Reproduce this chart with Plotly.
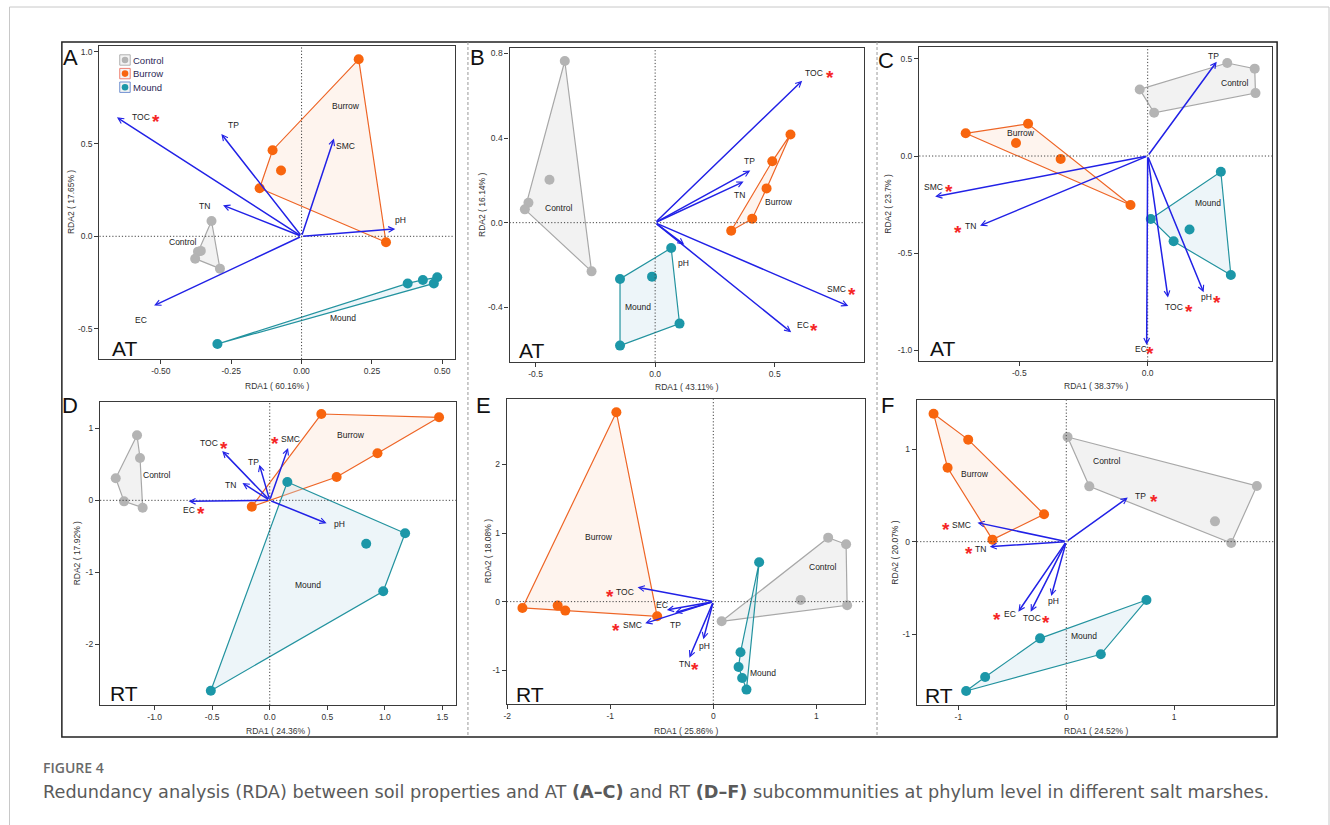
import plotly.graph_objects as go

W, H = 1330, 825
FONT = "Liberation Sans, Arial, sans-serif"

# ---------------- DATA ----------------
GROUPS = ["Control", "Burrow", "Mound"]

# Panel A (AT)
A_CONTROL = [(-0.320, 0.083), (-0.358, -0.079), (-0.368, -0.083), (-0.378, -0.121), (-0.290, -0.175)]
A_BURROW = [(0.203, 0.958), (-0.103, 0.466), (-0.073, 0.356), (-0.149, 0.260), (0.300, -0.032)]
A_MOUND = [(-0.299, -0.583), (0.377, -0.255), (0.431, -0.236), (0.482, -0.222), (0.470, -0.255)]
A_ARROW_NAMES = ["TOC", "TP", "SMC", "TN", "pH", "EC"]
A_ARROW_X = [-0.656, -0.285, 0.115, -0.279, 0.333, -0.524]
A_ARROW_Y = [0.644, 0.554, 0.529, 0.168, 0.040, -0.375]
A_ARROW_SIG = [1, 0, 0, 0, 0, 0]
A_XTICKS = [-0.5, -0.25, 0.0, 0.25, 0.5]
A_XTICKTEXT = ["-0.50", "-0.25", "0.00", "0.25", "0.50"]
A_YTICKS = [1.0, 0.5, 0.0, -0.5]
A_YTICKTEXT = ["1.0", "0.5", "0.0", "-0.5"]
A_XTITLE = "RDA1 ( 60.16% )"
A_YTITLE = "RDA2 ( 17.65% )"

# Panel B (AT)
B_CONTROL = [(-0.378, 0.764), (-0.442, 0.203), (-0.530, 0.094), (-0.545, 0.063), (-0.266, -0.230)]
B_BURROW = [(0.566, 0.417), (0.490, 0.290), (0.466, 0.162), (0.406, 0.019), (0.318, -0.038)]
B_MOUND = [(0.067, -0.120), (-0.013, -0.255), (-0.147, -0.266), (0.102, -0.477), (-0.147, -0.581)]
B_ARROW_NAMES = ["TOC", "TP", "TN", "pH", "SMC", "EC"]
B_ARROW_X = [0.615, 0.398, 0.370, 0.122, 0.808, 0.569]
B_ARROW_Y = [0.671, 0.246, 0.194, -0.104, -0.394, -0.518]
B_ARROW_SIG = [1, 0, 0, 0, 1, 1]
B_XTICKS = [-0.5, 0.0, 0.5]
B_XTICKTEXT = ["-0.5", "0.0", "0.5"]
B_YTICKS = [0.8, 0.4, 0.0, -0.4]
B_YTICKTEXT = ["0.8", "0.4", "0.0", "-0.4"]
B_XTITLE = "RDA1 ( 43.11% )"
B_YTITLE = "RDA2 ( 16.14% )"

# Panel C (AT)
C_CONTROL = [(-0.031, 0.343), (0.025, 0.223), (0.310, 0.479), (0.417, 0.450), (0.420, 0.324)]
C_BURROW = [(-0.709, 0.117), (-0.466, 0.166), (-0.513, 0.067), (-0.339, -0.015), (-0.067, -0.252)]
C_MOUND = [(0.285, -0.081), (0.012, -0.324), (0.163, -0.378), (0.101, -0.439), (0.324, -0.613)]
C_ARROW_NAMES = ["TP", "SMC", "TN", "TOC", "pH", "EC"]
C_ARROW_X = [0.269, -0.828, -0.653, 0.079, 0.218, -0.004]
C_ARROW_Y = [0.486, -0.209, -0.359, -0.729, -0.702, -0.973]
C_ARROW_SIG = [0, 1, 1, 1, 1, 1]
C_XTICKS = [-0.5, 0.0]
C_XTICKTEXT = ["-0.5", "0.0"]
C_YTICKS = [0.5, 0.0, -0.5, -1.0]
C_YTICKTEXT = ["0.5", "0.0", "-0.5", "-1.0"]
C_XTITLE = "RDA1 ( 38.37% )"
C_YTITLE = "RDA2 ( 23.7% )"

# Panel D (RT)
D_CONTROL = [(-1.153, 0.903), (-1.127, 0.588), (-1.338, 0.306), (-1.266, -0.014), (-1.104, -0.102)]
D_BURROW = [(0.448, 1.199), (1.471, 1.153), (0.936, 0.653), (0.581, 0.324), (-0.156, -0.088)]
D_MOUND = [(0.153, 0.255), (1.176, -0.458), (0.838, -0.602), (0.986, -1.264), (-0.512, -2.644)]
D_ARROW_NAMES = ["TOC", "SMC", "TP", "TN", "EC", "pH"]
D_ARROW_X = [-0.413, 0.159, -0.090, -0.237, -0.705, 0.494]
D_ARROW_Y = [0.685, 0.727, 0.495, 0.241, -0.014, -0.319]
D_ARROW_SIG = [1, 1, 0, 0, 1, 0]
D_XTICKS = [-1.0, -0.5, 0.0, 0.5, 1.0, 1.5]
D_XTICKTEXT = ["-1.0", "-0.5", "0.0", "0.5", "1.0", "1.5"]
D_YTICKS = [1, 0, -1, -2]
D_YTICKTEXT = ["1", "0", "-1", "-2"]
D_XTITLE = "RDA1 ( 24.36% )"
D_YTITLE = "RDA2 ( 17.92% )"

# Panel E (RT)
E_CONTROL = [(1.115, 0.933), (1.289, 0.836), (0.848, 0.024), (1.299, -0.053), (0.081, -0.287)]
E_BURROW = [(-0.941, 2.761), (-1.853, -0.092), (-1.511, -0.058), (-1.437, -0.131), (-0.545, -0.214)]
E_MOUND = [(0.445, 0.574), (0.264, -0.739), (0.245, -0.953), (0.280, -1.113), (0.322, -1.283)]
E_ARROW_NAMES = ["TOC", "EC", "TP", "SMC", "pH", "TN"]
E_ARROW_X = [-0.735, -0.451, -0.371, -0.661, -0.097, -0.232]
E_ARROW_Y = [0.209, -0.122, -0.160, -0.316, -0.549, -0.817]
E_ARROW_SIG = [1, 0, 0, 1, 0, 1]
E_XTICKS = [-2, -1, 0, 1]
E_XTICKTEXT = ["-2", "-1", "0", "1"]
E_YTICKS = [2, 1, 0, -1]
E_YTICKTEXT = ["2", "1", "0", "-1"]
E_XTITLE = "RDA1 ( 25.86% )"
E_YTITLE = "RDA2 ( 18.08% )"

# Panel F (RT)
F_CONTROL = [(0.012, 1.134), (0.213, 0.599), (1.766, 0.603), (1.378, 0.220), (1.528, -0.014)]
F_BURROW = [(-1.230, 1.386), (-0.909, 1.105), (-1.100, 0.801), (-0.206, 0.296), (-0.684, 0.022)]
F_MOUND = [(0.743, -0.632), (-0.243, -1.047), (0.320, -1.220), (-0.752, -1.466), (-0.928, -1.617)]
F_ARROW_NAMES = ["TP", "SMC", "TN", "EC", "TOC", "pH"]
F_ARROW_X = [0.570, -0.823, -0.709, -0.444, -0.330, -0.139]
F_ARROW_Y = [0.477, 0.206, -0.054, -0.758, -0.758, -0.588]
F_ARROW_SIG = [1, 1, 1, 1, 1, 0]
F_XTICKS = [-1, 0, 1]
F_XTICKTEXT = ["-1", "0", "1"]
F_YTICKS = [1, 0, -1]
F_YTICKTEXT = ["1", "0", "-1"]
F_XTITLE = "RDA1 ( 24.52% )"
F_YTITLE = "RDA2 ( 20.07% )"

CAPTION_HEAD = "FIGURE 4"
CAPTION = ("Redundancy analysis (RDA) between soil properties and AT <b>(A\u2013C)</b> and RT "
           "<b>(D\u2013F)</b> subcommunities at phylum level in different salt marshes.")

# ---------------- LAYOUT / STYLE (positions in pixels) ----------------
PANELS = [
    dict(letter="A", tag="AT", groups=[A_CONTROL, A_BURROW, A_MOUND],
         names=A_ARROW_NAMES, ax=A_ARROW_X, ay=A_ARROW_Y, sig=A_ARROW_SIG,
         xt=(A_XTICKS, A_XTICKTEXT), yt=(A_YTICKS, A_YTICKTEXT), xtitle=A_XTITLE, ytitle=A_YTITLE,
         frame=(96.7, 452.7, 46, 359), xr=(-0.718, 0.544), yr=(-0.664, 1.030),
         lab={"TOC": (24, 0), "TP": (12, 9), "SMC": (12, -7), "TN": (-19, -1), "pH": (5, 9), "EC": (-13, -14)},
         star={"TOC": (39, 1)},
         glab=[(-0.423, -0.032), (0.157, 0.708), (0.147, -0.444)],
         letter_xy=(68, 57), tag_xy=(122, 348), ytitle_x=67.7, xtitle_y=385.7, legend=True),
    dict(letter="B", tag="AT", groups=[B_CONTROL, B_BURROW, B_MOUND],
         names=B_ARROW_NAMES, ax=B_ARROW_X, ay=B_ARROW_Y, sig=B_ARROW_SIG,
         xt=(B_XTICKS, B_XTICKTEXT), yt=(B_YTICKS, B_YTICKTEXT), xtitle=B_XTITLE, ytitle=B_YTITLE,
         frame=(507.7, 863.3, 48.3, 361.7), xr=(-0.609, 0.875), yr=(-0.657, 0.824),
         lab={"TOC": (12, 8), "TP": (-1, 10), "TN": (-4, -13), "pH": (-1, -18), "SMC": (-12, 17), "EC": (12, 7)},
         star={"TOC": (28, 9), "SMC": (4, 17.5), "EC": (23, 7)},
         glab=[(-0.401, 0.068), (0.517, 0.099), (-0.070, -0.398)],
         letter_xy=(476, 57), tag_xy=(530, 350), ytitle_x=480, xtitle_y=386.7, legend=False),
    dict(letter="C", tag="AT", groups=[C_CONTROL, C_BURROW, C_MOUND],
         names=C_ARROW_NAMES, ax=C_ARROW_X, ay=C_ARROW_Y, sig=C_ARROW_SIG,
         xt=(C_XTICKS, C_XTICKTEXT), yt=(C_YTICKS, C_YTICKTEXT), xtitle=C_XTITLE, ytitle=C_YTITLE,
         frame=(918.3, 1272.3, 46.7, 360.7), xr=(-0.890, 0.486), yr=(-1.054, 0.563),
         lab={"TP": (-3, 6), "SMC": (-2, 10), "TN": (-10, 0), "TOC": (6, -9), "pH": (3, -5), "EC": (-6, -4)},
         star={"SMC": (14, 11), "TN": (-22, -1), "TOC": (21, -8), "pH": (13, -5), "EC": (3, -3)},
         glab=[(0.341, 0.378), (-0.492, 0.120), (0.234, -0.244)],
         letter_xy=(885, 60), tag_xy=(942, 348), ytitle_x=887, xtitle_y=385.7, legend=False),
    dict(letter="D", tag="RT", groups=[D_CONTROL, D_BURROW, D_MOUND],
         names=D_ARROW_NAMES, ax=D_ARROW_X, ay=D_ARROW_Y, sig=D_ARROW_SIG,
         xt=(D_XTICKS, D_XTICKTEXT), yt=(D_YTICKS, D_YTICKTEXT), xtitle=D_XTITLE, ytitle=D_YTITLE,
         frame=(97.3, 454, 402, 705), xr=(-1.474, 1.618), yr=(-2.843, 1.366),
         lab={"TOC": (-13, 8), "SMC": (2, 9), "TP": (-6, 3), "TN": (-12, -2), "EC": (0, -9), "pH": (13, -1)},
         star={"TOC": (2, 8), "SMC": (-13, 10), "EC": (12, -7)},
         glab=[(-0.980, 0.347), (0.708, 0.912), (0.332, -1.176)],
         letter_xy=(67, 405), tag_xy=(121, 693), ytitle_x=74, xtitle_y=730.5, legend=False),
    dict(letter="E", tag="RT", groups=[E_CONTROL, E_BURROW, E_MOUND],
         names=E_ARROW_NAMES, ax=E_ARROW_X, ay=E_ARROW_Y, sig=E_ARROW_SIG,
         xt=(E_XTICKS, E_XTICKTEXT), yt=(E_YTICKS, E_YTICKTEXT), xtitle=E_XTITLE, ytitle=E_YTITLE,
         frame=(505, 864, 399.3, 704), xr=(-2.004, 1.473), yr=(-1.493, 2.951),
         lab={"TOC": (-13, -5), "EC": (-5, 5), "TP": (0, -12), "SMC": (-13, -2), "pH": (1, -7), "TN": (-5, -6)},
         star={"TOC": (-28, -4), "SMC": (-29, -2), "TN": (6, -6)},
         glab=[(1.067, 0.501), (-1.112, 0.948), (0.487, -1.045)],
         letter_xy=(482, 405), tag_xy=(528, 694), ytitle_x=485.7, xtitle_y=730.5, legend=False),
    dict(letter="F", tag="RT", groups=[F_CONTROL, F_BURROW, F_MOUND],
         names=F_ARROW_NAMES, ax=F_ARROW_X, ay=F_ARROW_Y, sig=F_ARROW_SIG,
         xt=(F_XTICKS, F_XTICKTEXT), yt=(F_YTICKS, F_YTICKTEXT), xtitle=F_XTITLE, ytitle=F_YTITLE,
         frame=(916, 1274, 400.3, 705), xr=(-1.384, 1.926), yr=(-1.769, 1.531),
         lab={"TP": (13, 2), "SMC": (-16, -2), "TN": (-9, -2), "EC": (-8, -2), "TOC": (1, -6), "pH": (2, -5)},
         star={"TP": (26, 2), "SMC": (-31, -1), "TN": (-21, -1), "EC": (-21, -2), "TOC": (15, -5)},
         glab=[(0.376, 0.874), (-0.844, 0.736), (0.166, -1.022)],
         letter_xy=(887, 405), tag_xy=(938, 695), ytitle_x=894, xtitle_y=731, legend=False),
]

PT_COLORS = {"Control": "#B4B4B4", "Burrow": "#F8650E", "Mound": "#1C97A8"}
LINE_COLORS = {"Control": "#A8A8A8", "Burrow": "#EE6526", "Mound": "#23939F"}
FILL_COLORS = {"Control": "rgba(225,225,225,0.42)", "Burrow": "rgba(250,215,195,0.28)",
               "Mound": "rgba(200,225,238,0.33)"}
LEG_BORDER = {"Control": "#B0B0B0", "Burrow": "#F07F70", "Mound": "#7090D0"}
ARROW_COLOR = "#2121E6"
STAR_COLOR = "#F52626"
TXT = "#222222"


def px(x):
    return x / W


def py(y):
    return 1 - y / H


def hull(points):
    pts = sorted(set(points))

    def cross(o, a, b):
        return (a[0] - o[0]) * (b[1] - o[1]) - (a[1] - o[1]) * (b[0] - o[0])

    lower, upper = [], []
    for p in pts:
        while len(lower) >= 2 and cross(lower[-2], lower[-1], p) <= 0:
            lower.pop()
        lower.append(p)
    for p in reversed(pts):
        while len(upper) >= 2 and cross(upper[-2], upper[-1], p) <= 0:
            upper.pop()
        upper.append(p)
    h = lower[:-1] + upper[:-1]
    return h + [h[0]]


def paper_text(x, y, text, size, color=TXT, family=FONT, xanchor="center", **kw):
    return dict(x=px(x), y=py(y), xref="paper", yref="paper", text=text, showarrow=False,
                xanchor=xanchor, yanchor="middle", font=dict(family=family, size=size, color=color), **kw)


fig = go.Figure()
layout = dict(width=W, height=H, margin=dict(l=0, r=0, t=0, b=0), autosize=False,
              paper_bgcolor="white", plot_bgcolor="white", showlegend=False,
              font=dict(family=FONT, size=9, color=TXT))
shapes, annos = [], []

for i, P in enumerate(PANELS):
    s = "" if i == 0 else str(i + 1)
    xa, ya = "x" + s, "y" + s
    l, r, t, b = P["frame"]
    axis_common = dict(showline=True, mirror=True, linecolor="#3a3a3a", linewidth=1.4,
                       ticks="outside", ticklen=4, tickwidth=1, tickcolor="#3a3a3a",
                       showgrid=False, zeroline=False, tickmode="array",
                       tickfont=dict(family=FONT, size=8.5, color="#333333"))
    layout["xaxis" + s] = dict(axis_common, domain=[px(l), px(r)], range=list(P["xr"]), anchor=ya,
                               tickvals=P["xt"][0], ticktext=P["xt"][1])
    layout["yaxis" + s] = dict(axis_common, domain=[py(b), py(t)], range=list(P["yr"]), anchor=xa,
                               tickvals=P["yt"][0], ticktext=P["yt"][1])

    # hulls and points
    for g, pts in zip(GROUPS, P["groups"]):
        hp = hull(pts)
        fig.add_trace(go.Scatter(x=[p[0] for p in hp], y=[p[1] for p in hp], mode="lines",
                                 fill="toself", fillcolor=FILL_COLORS[g],
                                 line=dict(color=LINE_COLORS[g], width=1.2),
                                 xaxis=xa, yaxis=ya, hoverinfo="skip"))
    for g, pts in zip(GROUPS, P["groups"]):
        fig.add_trace(go.Scatter(x=[p[0] for p in pts], y=[p[1] for p in pts], mode="markers",
                                 marker=dict(color=PT_COLORS[g], size=10, line=dict(width=0)),
                                 xaxis=xa, yaxis=ya, name=g))

    # dotted zero lines
    shapes.append(dict(type="line", xref=xa, yref=ya + " domain", x0=0, x1=0, y0=0, y1=1,
                       line=dict(color="#444444", width=1, dash="1.2px,2px"), layer="above"))
    shapes.append(dict(type="line", xref=xa + " domain", yref=ya, x0=0, x1=1, y0=0, y1=0,
                       line=dict(color="#444444", width=1, dash="1.2px,2px"), layer="above"))

    # group labels
    for g, (gx, gy) in zip(GROUPS, P["glab"]):
        annos.append(dict(x=gx, y=gy, xref=xa, yref=ya, text=g, showarrow=False,
                          xanchor="center", yanchor="middle",
                          font=dict(family=FONT, size=8.5, color=TXT)))

    # environmental arrows
    for name, axv, ayv, sig in zip(P["names"], P["ax"], P["ay"], P["sig"]):
        annos.append(dict(x=axv, y=ayv, xref=xa, yref=ya, ax=0, ay=0, axref=xa, ayref=ya,
                          text="", showarrow=True, arrowhead=5, arrowsize=0.75, arrowwidth=1.5,
                          arrowcolor=ARROW_COLOR, standoff=0, startstandoff=0))
        dx, dy = P["lab"][name]
        annos.append(dict(x=axv, y=ayv, xref=xa, yref=ya, text=name, showarrow=False,
                          xanchor="center", yanchor="middle",
                          xshift=dx, yshift=dy, font=dict(family=FONT, size=8.5, color=TXT)))
        if sig:
            sx, sy = P["star"][name]
            annos.append(dict(x=axv, y=ayv, xref=xa, yref=ya, text="<b>*</b>", showarrow=False,
                              xanchor="center", yanchor="middle",
                              xshift=sx, yshift=sy - 5.5,
                              font=dict(family=FONT, size=19, color=STAR_COLOR)))

    # axis titles
    annos.append(paper_text((l + r) / 2, P["xtitle_y"], P["xtitle"], 8.5, "#333333"))
    annos.append(paper_text(P["ytitle_x"], (t + b) / 2, P["ytitle"], 8.5, "#333333", textangle=-90))
    # panel letter and tag
    annos.append(paper_text(P["letter_xy"][0], P["letter_xy"][1], P["letter"], 22, "#111111"))
    annos.append(paper_text(P["tag_xy"][0], P["tag_xy"][1], P["tag"], 21, "#111111"))

    # legend (panel A only)
    if P["legend"]:
        for k, g in enumerate(GROUPS):
            cy = 60 + k * 13.6
            shapes.append(dict(type="rect", xref="paper", yref="paper",
                               x0=px(117), x1=px(127.5), y0=py(cy + 5.2), y1=py(cy - 5.2),
                               line=dict(color=LEG_BORDER[g], width=1), fillcolor="#F4F4F4"))
            shapes.append(dict(type="circle", xref="paper", yref="paper",
                               x0=px(119.0), x1=px(125.6), y0=py(cy + 3.3), y1=py(cy - 3.3),
                               line=dict(width=0), fillcolor=PT_COLORS[g]))
            annos.append(paper_text(128.5, cy, g, 9.5, "#2C2856", xanchor="left"))

# frames and separators
shapes.append(dict(type="rect", xref="paper", yref="paper", x0=px(6.5), x1=px(1329), y0=py(7), y1=-0.05,
                   line=dict(color="#C8C8C8", width=1), layer="below"))
shapes.append(dict(type="rect", xref="paper", yref="paper", x0=px(59), x1=px(1277), y0=py(42), y1=py(737),
                   line=dict(color="#222222", width=1.5)))
for sx in (466, 876):
    shapes.append(dict(type="line", xref="paper", yref="paper", x0=px(sx), x1=px(sx), y0=py(42), y1=py(737),
                       line=dict(color="#9A9A9A", width=1, dash="3px,2px")))

# caption
annos.append(paper_text(38.5, 767.5, CAPTION_HEAD, 14, "#6A6A6A", family="Open Sans, sans-serif",
                        xanchor="left"))
annos[-1]["font"]["weight"] = 600
annos.append(paper_text(38.5, 791.5, CAPTION, 17.7, "#5A5A5A", family="DejaVu Sans, sans-serif",
                        xanchor="left"))

layout["shapes"] = shapes
layout["annotations"] = annos
fig.update_layout(**layout)
fig.write_html("out.html", config={"displayModeBar": False})
